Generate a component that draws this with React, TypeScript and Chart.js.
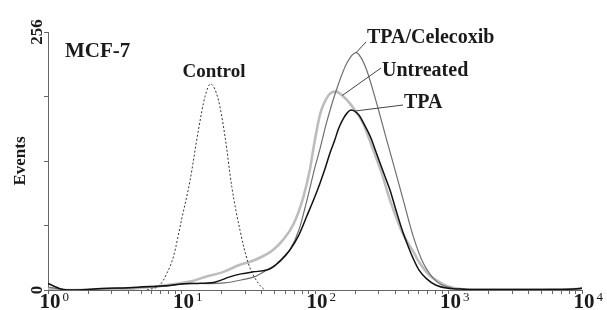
import React, { useEffect, useRef } from "react";
import { Chart, registerables } from "chart.js";

Chart.register(...registerables);

// ---- Data (fluorescence intensity, events) ----
const controlX = [5.5, 6.9, 7.8, 8.7, 10, 11.6, 13.4, 15, 16.5, 18.9, 21.2, 23.8, 27.4, 31.6, 37.6, 42];
const controlY = [0, 5, 17, 33, 69.5, 109, 159, 192, 204.4, 188.5, 152, 102.5, 59.5, 26.8, 6.6, 0];

const tpaX = [1, 1.1, 1.3, 1.6, 2.5, 4, 6, 8, 10, 14, 18, 23, 28, 34.5, 43.5, 48.7, 54.7, 65, 76, 86.6, 98, 109, 120, 129.5, 140, 150, 163, 175, 186, 200, 215, 230, 260, 290, 325, 365, 409, 459, 500, 545, 600, 687, 800, 970, 1300, 2000, 4000, 8000, 9500, 10000];
const tpaY = [6.6, 4, 0.5, 0, 1.5, 2.3, 3.5, 4.5, 6, 6.6, 8, 13, 16, 18, 19.8, 23, 29, 40, 55, 73, 90, 106, 122, 136, 148, 160, 170, 176, 178.6, 177, 173, 166, 152, 135, 117, 99, 77, 56, 43, 31, 20, 11, 5, 2, 0.8, 0.5, 0.5, 0.8, 1.5, 2];

const celecoxibX = [1, 1.2, 1.6, 2.5, 5, 8, 11.6, 16, 21, 28, 35, 43.5, 54.7, 65, 76, 86.6, 100, 109, 122, 145, 173, 203, 220, 244, 290, 344, 398, 459, 545, 648, 816, 1000, 1360, 2000, 5000, 9000, 10000];
const celecoxibY = [3, 1, 0, 1, 2.5, 4, 6.6, 6.3, 7, 9.9, 13, 19.8, 28, 40, 60, 88, 122, 140, 166, 199, 225, 235.5, 231, 218, 185, 149, 119, 89, 53, 26.5, 8.3, 2.7, 0.7, 0.3, 0.5, 1, 1.5];

const untreatedX = [1, 1.2, 1.6, 2.5, 4, 4.9, 6.9, 9, 11.6, 15, 20.6, 27.4, 32.6, 40, 48.7, 57, 68.8, 81.7, 91.7, 97.2, 109, 126, 143, 160, 183, 205, 230, 273, 316, 365, 409, 459, 545, 600, 727, 850, 970, 1290, 2000, 5000, 9000, 10000];
const untreatedY = [1.5, 0.5, 0, 0.5, 1, 2, 4, 6, 8.3, 13, 18, 25, 28, 33, 40, 49, 65, 92, 120, 140, 174, 193, 196.8, 193, 185, 176, 165, 139, 116, 89, 71, 55, 38, 28, 14, 8, 4, 0.8, 0.5, 0.5, 1, 1.5];

const xDecades = [1, 10, 100, 1000, 10000];
const xExponents = ["0", "1", "2", "3", "4"];
const xMinorMultipliers = [1, 2, 3, 4, 5, 6, 7, 8, 9];
const yTickValues = [0, 64, 128, 192, 256];
const yLabelValues = [0, 256];

const SERIF = "'Liberation Serif', 'Times New Roman', serif";

const toPoints = (xs: number[], ys: number[]) => xs.map((x, i) => ({ x, y: ys[i] }));

function interp(xs: number[], ys: number[], v: number) {
  const lv = Math.log10(v);
  for (let i = 0; i < xs.length - 1; i++) {
    const a = Math.log10(xs[i]);
    const b = Math.log10(xs[i + 1]);
    if (lv >= a && lv <= b) {
      const t = (lv - a) / (b - a);
      return ys[i] + t * (ys[i + 1] - ys[i]);
    }
  }
  return 0;
}

const curveLabels = [
  { text: "TPA/Celecoxib", xs: celecoxibX, ys: celecoxibY, anchor: 203, endX: 366, endY: 42, textX: 367, textY: 43 },
  { text: "Untreated", xs: untreatedX, ys: untreatedY, anchor: 160, endX: 381, endY: 68, textX: 382, textY: 76 },
  { text: "TPA", xs: tpaX, ys: tpaY, anchor: 196, endX: 403, endY: 105, textX: 404, textY: 108 },
];

const textPlugin = {
  id: "textPlugin",
  afterDraw(chart: any) {
    const ctx = chart.ctx as CanvasRenderingContext2D;
    const xs = chart.scales.x;
    const ys = chart.scales.y;
    ctx.save();
    ctx.fillStyle = "#1a1a1a";

    // x tick labels 10^n
    xDecades.forEach((v, i) => {
      const px = xs.getPixelForValue(v) + 2;
      ctx.font = `bold 21px ${SERIF}`;
      ctx.textAlign = "center";
      ctx.textBaseline = "alphabetic";
      ctx.fillText("10", px, 308);
      const w = ctx.measureText("10").width;
      ctx.font = `13px ${SERIF}`;
      ctx.textAlign = "left";
      ctx.fillText(xExponents[i], px + w / 2 + 2, 301);
    });

    // y tick labels, rotated
    yLabelValues.forEach((v) => {
      const py = ys.getPixelForValue(v);
      ctx.save();
      ctx.translate(42, py);
      ctx.rotate(-Math.PI / 2);
      ctx.font = `bold 17px ${SERIF}`;
      ctx.textAlign = "center";
      ctx.textBaseline = "alphabetic";
      ctx.fillText(String(v), 0, 0);
      ctx.restore();
    });

    // y axis title
    ctx.save();
    ctx.translate(25, 161);
    ctx.rotate(-Math.PI / 2);
    ctx.font = `bold 17px ${SERIF}`;
    ctx.textAlign = "center";
    ctx.fillText("Events", 0, 0);
    ctx.restore();

    // panel title
    ctx.font = `bold 21px ${SERIF}`;
    ctx.textAlign = "left";
    ctx.fillText("MCF-7", 65, 57);

    // Control label
    ctx.font = `bold 19px ${SERIF}`;
    ctx.textAlign = "center";
    ctx.fillText("Control", 214, 77);

    // labels with leader lines
    curveLabels.forEach((l) => {
      const sx = xs.getPixelForValue(l.anchor);
      const sy = ys.getPixelForValue(interp(l.xs, l.ys, l.anchor));
      ctx.strokeStyle = "#444";
      ctx.lineWidth = 1;
      ctx.beginPath();
      ctx.moveTo(sx, sy);
      ctx.lineTo(l.endX, l.endY);
      ctx.stroke();
      ctx.font = `bold 20px ${SERIF}`;
      ctx.textAlign = "left";
      ctx.fillText(l.text, l.textX, l.textY);
    });
    ctx.restore();
  },
};

export default function App() {
  const ref = useRef<HTMLCanvasElement | null>(null);

  useEffect(() => {
    document.body.style.margin = "0";
    const canvas = ref.current;
    if (!canvas) return;
    const chart = new Chart(canvas, {
      type: "line",
      data: {
        datasets: [
          {
            label: "Control",
            data: toPoints(controlX, controlY),
            borderColor: "#333",
            borderWidth: 1,
            borderDash: [2, 2],
            cubicInterpolationMode: "monotone",
            pointRadius: 0,
            fill: false,
          },
          {
            label: "TPA",
            data: toPoints(tpaX, tpaY),
            borderColor: "#111",
            borderWidth: 1.5,
            cubicInterpolationMode: "monotone",
            pointRadius: 0,
            fill: false,
          },
          {
            label: "TPA/Celecoxib",
            data: toPoints(celecoxibX, celecoxibY),
            borderColor: "#6f6f6f",
            borderWidth: 1.2,
            cubicInterpolationMode: "monotone",
            pointRadius: 0,
            fill: false,
          },
          {
            label: "Untreated",
            data: toPoints(untreatedX, untreatedY),
            borderColor: "#bdbdbd",
            borderWidth: 2.6,
            cubicInterpolationMode: "monotone",
            pointRadius: 0,
            fill: false,
          },
        ],
      },
      options: {
        responsive: false,
        animation: false,
        layout: { padding: { top: 32, right: 25, left: 0, bottom: 0 } },
        plugins: { legend: { display: false }, tooltip: { enabled: false } },
        scales: {
          x: {
            type: "logarithmic",
            min: 1,
            max: 10000,
            position: "bottom",
            grid: { drawOnChartArea: false, drawTicks: true, tickLength: 4, color: "#666", tickColor: "#666" },
            border: { display: true, color: "#666", width: 1 },
            ticks: { display: false, autoSkip: false },
            afterBuildTicks: (s: any) => {
              const t: { value: number }[] = [];
              xDecades.forEach((d, i) => {
                if (i === xDecades.length - 1) {
                  t.push({ value: d });
                } else {
                  xMinorMultipliers.forEach((m) => t.push({ value: d * m }));
                }
              });
              s.ticks = t;
            },
            afterFit: (s: any) => {
              s.height = 20;
            },
          },
          y: {
            type: "linear",
            min: 0,
            max: 256,
            grid: { drawOnChartArea: false, drawTicks: true, tickLength: 4, color: "#666", tickColor: "#666" },
            border: { display: true, color: "#666", width: 1 },
            ticks: { display: false },
            afterBuildTicks: (s: any) => {
              s.ticks = yTickValues.map((v) => ({ value: v }));
            },
            afterFit: (s: any) => {
              s.width = 48;
            },
          },
        },
      } as any,
      plugins: [textPlugin],
    });
    return () => chart.destroy();
  }, []);

  return (
    <div style={{ width: 607, height: 310, background: "#fff" }}>
      <canvas ref={ref} width={607} height={310} style={{ display: "block" }} />
    </div>
  );
}
